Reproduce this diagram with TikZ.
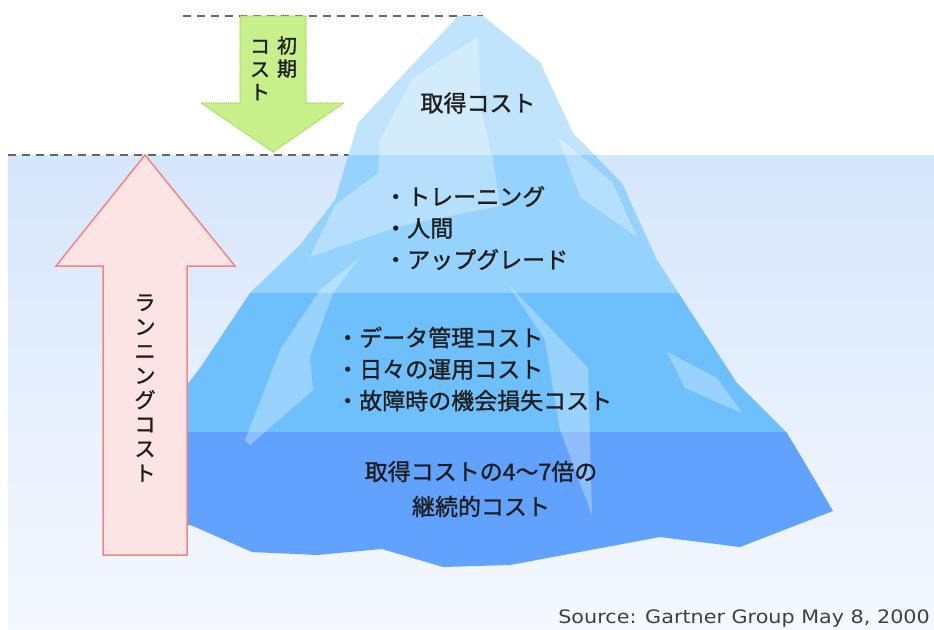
\documentclass[tikz,border=0pt]{standalone}
\usepackage{fontspec}
\usepackage{xcolor}
\usepackage{tikz}
\usetikzlibrary{positioning}
\newfontfamily\jpfont[FakeBold=1.2]{Noto Sans CJK JP}
\newfontfamily\srcfont{DejaVu Sans}

\definecolor{seaTop}{HTML}{D6E6FB}
\definecolor{seaBottom}{HTML}{F5F8FE}
\definecolor{iceTop}{HTML}{C0E4FB}
\definecolor{iceMid}{HTML}{95D2FC}
\definecolor{iceDeep}{HTML}{6EC0FD}
\definecolor{iceBottom}{HTML}{60A2FD}
\definecolor{greenFill}{HTML}{C7F08B}
\definecolor{greenLine}{HTML}{A2D94F}
\definecolor{redFill}{HTML}{FDE4E4}
\definecolor{redLine}{HTML}{F08585}
\definecolor{inkGray}{HTML}{1E1E1E}
\definecolor{lineGray}{HTML}{666666}

\tikzset{
  jptext/.style={font=\jpfont\fontsize{23}{31.5}\selectfont, text=inkGray, inner sep=0pt},
  vtext/.style={font=\jpfont\fontsize{21}{24.4}\selectfont, text=inkGray, inner sep=0pt, align=center},
  waterline/.style={draw=lineGray, line width=1.5pt, dash pattern=on 8pt off 6pt},
  facet/.style={fill=white, fill opacity=0.3},
}

\begin{document}
\begin{tikzpicture}[x=1pt, y=-1pt]
			\useasboundingbox (0,0) rectangle (934,629);
			\fill[white] (0,0) rectangle (934,629);
			\shade[top color=seaTop, bottom color=seaBottom] (8,155) rectangle (934,629);
			%
			\coordinate (topL) at (183,16);
			\coordinate (topR) at (483,16);
			\coordinate (seaL) at (8,155);
			\coordinate (seaR) at (350,155);
			\draw[waterline] (topL) -- (topR);
			\draw[waterline] (seaL) -- (seaR);
			%
			\begin{scope}
				\clip (458,16) -- (483,16) -- (540,62) -- (573,133) -- (622,183) -- (657,260)
					-- (737,383) -- (787,433) -- (815,480) -- (833,511) -- (740,547) -- (660,537)
					-- (510,565) -- (443,567) -- (382,549) -- (317,555) -- (252,552) -- (193,526)
					-- (165,520) -- (160,420) -- (200,368) -- (250,293) -- (300,245) -- (335,200)
					-- (347,160) -- (358,123) -- cycle;
				\fill[iceTop] (150,0) rectangle (850,155);
				\fill[iceMid] (150,155) rectangle (850,293);
				\fill[iceDeep] (150,293) rectangle (850,432);
				\fill[iceBottom] (150,432) rectangle (850,600);
				%
				\fill[facet] (478,37) -- (413,78) -- (380,140) -- (378,173) -- (335,205) -- (310,257)
					-- (400,226) -- (500,206) -- (493,160) -- (482,113) -- cycle;
				\fill[facet] (558,137) -- (612,182) -- (637,237) -- (580,197) -- cycle;
				\fill[facet] (667,352) -- (717,378) -- (742,413) -- (685,388) -- cycle;
				\fill[facet] (507,283) -- (588,368) -- (592,515) -- (560,430) -- (545,340) -- cycle;
				\fill[facet] (360,257) -- (333,293) -- (310,357) -- (313,390) -- (250,445)
					-- (245,440) -- (280,350) -- (320,290) -- cycle;
			\end{scope}
			%
			\filldraw[fill=greenFill, draw=greenLine, line width=1.2pt, densely dotted]
				(240,16) -- (306,16) -- (306,103) -- (344,103) -- (273,152) -- (201,103) -- (240,103) -- cycle;
			\filldraw[fill=redFill, draw=redLine, line width=1.5pt]
				(145,155) -- (235,266) -- (187,266) -- (187,555) -- (103,555) -- (103,266) -- (56,266) -- cycle;
			%
			\node[vtext, font=\jpfont\fontsize{20}{23}\selectfont] (shoki) at (287,57) {初\\期};
			\node[vtext, font=\jpfont\fontsize{20}{23}\selectfont] (shokiCost) at (260,70) {コ\\ス\\ト};
			\node[vtext] (running) at (145,388) {ラ\\ン\\ニ\\ン\\グ\\コ\\ス\\ト};
			%
			\node[jptext] (acquire) at (478,103) {取得コスト};
			\node[jptext, align=left, anchor=west] (hidden) at (384,228) {・トレーニング\\・人間\\・アップグレード};
			\node[jptext, align=left, anchor=west] (running2) at (336,369) {・データ管理コスト\\・日々の運用コスト\\・故障時の機会損失コスト};
			\node[jptext, align=center, font=\jpfont\fontsize{23}{35}\selectfont] (ongoing) at (481,489) {取得コストの4〜7倍の\\継続的コスト};
			%
			\node[anchor=base east, inner sep=0pt, text=inkGray!85, font=\srcfont\fontsize{18.5}{18.5}\selectfont]
				(source) at (930,623) {\scalebox{1.12}[1]{Source: Gartner Group May 8, 2000}};
\end{tikzpicture}
\end{document}
